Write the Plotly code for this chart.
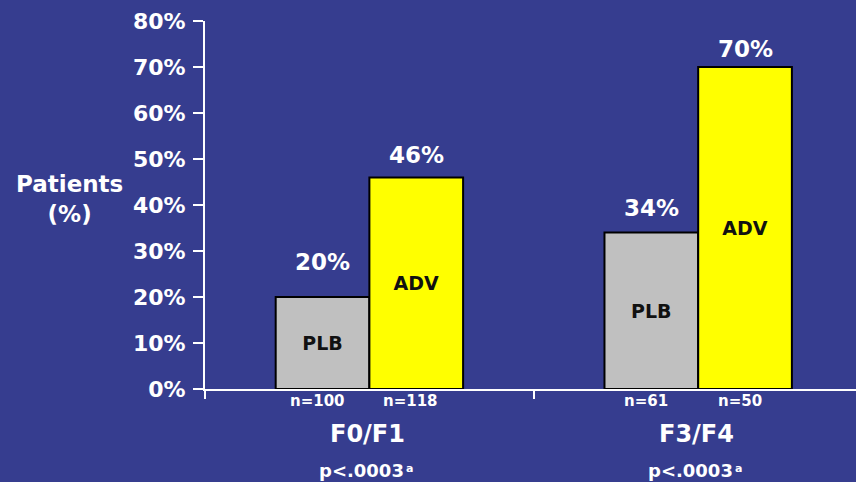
import plotly.graph_objects as go

# Data
categories = ["F0/F1", "F3/F4"]
series_names = ["PLB", "ADV"]
plb_values = [20, 34]
adv_values = [46, 70]
plb_n = ["n=100", "n=61"]
adv_n = ["n=118", "n=50"]
p_values = ["p<.0003", "p<.0003"]
p_note = "a"
y_ticks = [0, 10, 20, 30, 40, 50, 60, 70, 80]

# Styling
BG = "#363D8F"
FONT = "DejaVu Sans"
WHITE = "#FFFFFF"
BAR_COLORS = {"PLB": "#C0C0C0", "ADV": "#FFFF00"}
BARGAP = 0.43
half = (1 - BARGAP) / 4  # centre offset of each bar within its group

x_pos = list(range(len(categories)))

fig = go.Figure()
for name, vals in zip(series_names, [plb_values, adv_values]):
    fig.add_trace(go.Bar(
        x=x_pos, y=vals, name=name,
        marker=dict(color=BAR_COLORS[name], line=dict(color="#000000", width=2)),
        text=[name] * len(vals), textposition="inside", insidetextanchor="middle",
        textangle=0,
        textfont=dict(family=FONT, size=19, color="#111111", weight="bold"),
        showlegend=False, hoverinfo="skip",
    ))

annotations = []
# value labels above bars
label_shift = {"PLB": [35, 25], "ADV": [22, 18]}
for name, vals, sgn in [("PLB", plb_values, -1), ("ADV", adv_values, 1)]:
    for i, v in enumerate(vals):
        annotations.append(dict(
            x=i + sgn * half, y=v, xref="x", yref="y", text=f"{v}%",
            showarrow=False, yshift=label_shift[name][i], yanchor="middle",
            font=dict(family=FONT, size=23, color=WHITE, weight="bold"),
        ))
# n labels, category names and p-values below the axis
for i in range(len(categories)):
    for txt, sgn in [(plb_n[i], -1), (adv_n[i], 1)]:
        annotations.append(dict(
            x=i + sgn * half - 0.016, y=0, xref="x", yref="y", text=txt,
            showarrow=False, yshift=-12, yanchor="middle",
            font=dict(family=FONT, size=15, color=WHITE, weight="bold"),
        ))
    annotations.append(dict(
        x=i - 0.005, y=0, xref="x", yref="y", text=categories[i],
        showarrow=False, yshift=-45, yanchor="middle",
        font=dict(family=FONT, size=24, color=WHITE, weight="bold"),
    ))
    annotations.append(dict(
        x=i, y=0, xref="x", yref="y", text=p_values[i],
        showarrow=False, xshift=-8, yshift=-81, yanchor="middle",
        font=dict(family=FONT, size=18, color=WHITE, weight="bold"),
    ))
    annotations.append(dict(
        x=i, y=0, xref="x", yref="y", text=p_note,
        showarrow=False, xshift=35, xanchor="left", yshift=-79, yanchor="middle",
        font=dict(family=FONT, size=11, color=WHITE, weight="bold"),
    ))
# y-axis title
annotations.append(dict(
    x=-0.5, y=41.3, xref="x", yref="y", text="Patients<br>(%)",
    showarrow=False, xshift=-136, xanchor="center", yanchor="middle",
    font=dict(family=FONT, size=23, color=WHITE, weight="bold"),
))

fig.update_layout(
    width=856, height=482,
    margin=dict(l=205, r=0, t=21, b=93),
    paper_bgcolor=BG, plot_bgcolor=BG,
    barmode="group", bargap=BARGAP, bargroupgap=0,
    annotations=annotations,
    xaxis=dict(
        range=[-0.5, 1.48], showgrid=False, zeroline=False,
        showline=True, linecolor=WHITE, linewidth=2,
        tickmode="array", tickvals=[-0.5, 0.5, 1.5], showticklabels=False,
        ticks="outside", ticklen=8, tickwidth=2, tickcolor=WHITE,
    ),
    yaxis=dict(
        range=[0, 80], showgrid=False, zeroline=False,
        showline=True, linecolor=WHITE, linewidth=2,
        tickmode="array", tickvals=y_ticks, ticktext=[f"{t}%" for t in y_ticks],
        ticks="outside", ticklen=10, tickwidth=2, tickcolor=WHITE,
        ticklabelstandoff=3,
        tickfont=dict(family=FONT, size=22, color=WHITE, weight="bold"),
    ),
)

fig.write_html("out.html")
